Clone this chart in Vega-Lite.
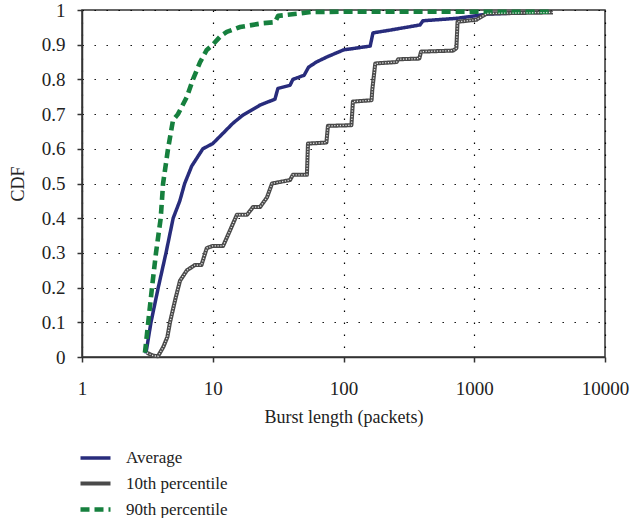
{
  "$schema": "https://vega.github.io/schema/vega-lite/v6.json",
  "autosize": {"type": "none"},
  "width": 523,
  "height": 347,
  "padding": {"left": 82, "top": 10, "right": 27, "bottom": 161},
  "background": "white",
  "config": {
    "font": "Liberation Serif",
    "view": {"stroke": "#333", "strokeWidth": 1.5},
    "axis": {
      "labelFont": "Liberation Serif",
      "titleFont": "Liberation Serif",
      "labelFontSize": 19,
      "titleFontSize": 18,
      "titleFontWeight": "normal",
      "labelColor": "#222",
      "titleColor": "#222",
      "domainColor": "#333",
      "domainWidth": 1.5,
      "tickColor": "#333",
      "tickWidth": 1.5,
      "tickSize": 5,
      "labelOverlap": false,
      "labelFlush": false,
      "grid": true,
      "gridColor": "#000",
      "gridDash": [1.4, 10.6],
      "gridWidth": 1.2,
      "gridOpacity": 1
    },
    "legend": {
      "labelFont": "Liberation Serif",
      "labelFontSize": 18,
      "labelColor": "#222"
    }
  },
  "datasets": {
    "cdf": [
      {"series": "Average", "x": 3.08, "y": 0.01},
      {"series": "Average", "x": 3.37, "y": 0.1},
      {"series": "Average", "x": 3.83, "y": 0.2},
      {"series": "Average", "x": 4.39, "y": 0.3},
      {"series": "Average", "x": 4.98, "y": 0.4},
      {"series": "Average", "x": 5.6, "y": 0.45},
      {"series": "Average", "x": 6.1, "y": 0.5},
      {"series": "Average", "x": 6.9, "y": 0.55},
      {"series": "Average", "x": 8.4, "y": 0.6},
      {"series": "Average", "x": 10, "y": 0.615},
      {"series": "Average", "x": 12, "y": 0.645},
      {"series": "Average", "x": 14.3, "y": 0.674},
      {"series": "Average", "x": 17, "y": 0.697},
      {"series": "Average", "x": 23, "y": 0.726},
      {"series": "Average", "x": 29.9, "y": 0.743},
      {"series": "Average", "x": 31.5, "y": 0.774},
      {"series": "Average", "x": 39, "y": 0.783},
      {"series": "Average", "x": 41, "y": 0.8},
      {"series": "Average", "x": 50, "y": 0.812},
      {"series": "Average", "x": 54, "y": 0.835},
      {"series": "Average", "x": 62, "y": 0.85},
      {"series": "Average", "x": 75, "y": 0.865},
      {"series": "Average", "x": 100, "y": 0.885},
      {"series": "Average", "x": 160, "y": 0.896},
      {"series": "Average", "x": 168, "y": 0.934},
      {"series": "Average", "x": 227, "y": 0.942},
      {"series": "Average", "x": 385, "y": 0.957},
      {"series": "Average", "x": 405, "y": 0.969},
      {"series": "Average", "x": 738, "y": 0.976},
      {"series": "Average", "x": 1250, "y": 0.988},
      {"series": "Average", "x": 2300, "y": 0.992},
      {"series": "10th percentile", "x": 3.14, "y": 0.012},
      {"series": "10th percentile", "x": 3.5, "y": 0.004},
      {"series": "10th percentile", "x": 3.81, "y": 0.002},
      {"series": "10th percentile", "x": 4.2, "y": 0.03},
      {"series": "10th percentile", "x": 4.5, "y": 0.058},
      {"series": "10th percentile", "x": 4.71, "y": 0.1},
      {"series": "10th percentile", "x": 5.2, "y": 0.17},
      {"series": "10th percentile", "x": 5.62, "y": 0.22},
      {"series": "10th percentile", "x": 6.35, "y": 0.25},
      {"series": "10th percentile", "x": 7.3, "y": 0.265},
      {"series": "10th percentile", "x": 8.2, "y": 0.265},
      {"series": "10th percentile", "x": 9.0, "y": 0.314},
      {"series": "10th percentile", "x": 10, "y": 0.32},
      {"series": "10th percentile", "x": 12, "y": 0.32},
      {"series": "10th percentile", "x": 13.6, "y": 0.366},
      {"series": "10th percentile", "x": 15.3, "y": 0.41},
      {"series": "10th percentile", "x": 18.3, "y": 0.41},
      {"series": "10th percentile", "x": 20.3, "y": 0.432},
      {"series": "10th percentile", "x": 23, "y": 0.432},
      {"series": "10th percentile", "x": 26, "y": 0.46},
      {"series": "10th percentile", "x": 28.4, "y": 0.5},
      {"series": "10th percentile", "x": 39, "y": 0.51},
      {"series": "10th percentile", "x": 41, "y": 0.525},
      {"series": "10th percentile", "x": 52.5, "y": 0.525},
      {"series": "10th percentile", "x": 53.5, "y": 0.615},
      {"series": "10th percentile", "x": 74, "y": 0.618},
      {"series": "10th percentile", "x": 76, "y": 0.666},
      {"series": "10th percentile", "x": 115, "y": 0.668},
      {"series": "10th percentile", "x": 118, "y": 0.736},
      {"series": "10th percentile", "x": 164, "y": 0.74},
      {"series": "10th percentile", "x": 166, "y": 0.77},
      {"series": "10th percentile", "x": 175, "y": 0.846},
      {"series": "10th percentile", "x": 255, "y": 0.85},
      {"series": "10th percentile", "x": 262, "y": 0.858},
      {"series": "10th percentile", "x": 380, "y": 0.86},
      {"series": "10th percentile", "x": 392, "y": 0.88},
      {"series": "10th percentile", "x": 690, "y": 0.883},
      {"series": "10th percentile", "x": 730, "y": 0.89},
      {"series": "10th percentile", "x": 745, "y": 0.966},
      {"series": "10th percentile", "x": 1040, "y": 0.972},
      {"series": "10th percentile", "x": 1250, "y": 0.99},
      {"series": "10th percentile", "x": 4000, "y": 0.993},
      {"series": "90th percentile", "x": 3.03, "y": 0.012},
      {"series": "90th percentile", "x": 3.43, "y": 0.2},
      {"series": "90th percentile", "x": 3.68, "y": 0.3},
      {"series": "90th percentile", "x": 4.0, "y": 0.4},
      {"series": "90th percentile", "x": 4.17, "y": 0.5},
      {"series": "90th percentile", "x": 4.55, "y": 0.6},
      {"series": "90th percentile", "x": 4.97, "y": 0.683},
      {"series": "90th percentile", "x": 5.42, "y": 0.7},
      {"series": "90th percentile", "x": 6.35, "y": 0.75},
      {"series": "90th percentile", "x": 7.06, "y": 0.8},
      {"series": "90th percentile", "x": 8.0, "y": 0.85},
      {"series": "90th percentile", "x": 9.0, "y": 0.885},
      {"series": "90th percentile", "x": 10, "y": 0.9},
      {"series": "90th percentile", "x": 11.5, "y": 0.925},
      {"series": "90th percentile", "x": 12.8, "y": 0.937},
      {"series": "90th percentile", "x": 16.2, "y": 0.951},
      {"series": "90th percentile", "x": 24.2, "y": 0.962},
      {"series": "90th percentile", "x": 29.9, "y": 0.965},
      {"series": "90th percentile", "x": 31.6, "y": 0.983},
      {"series": "90th percentile", "x": 46.5, "y": 0.99},
      {"series": "90th percentile", "x": 56, "y": 0.994},
      {"series": "90th percentile", "x": 100, "y": 0.995},
      {"series": "90th percentile", "x": 4000, "y": 0.995}
    ]
  },
  "data": {"name": "cdf"},
  "encoding": {
    "x": {
      "field": "x", "type": "quantitative",
      "scale": {"type": "log", "domain": [1, 10000], "nice": false},
      "axis": {"values": [1, 10, 100, 1000, 10000], "format": "d", "title": "Burst length (packets)", "labelPadding": 17, "titlePadding": 10, "labelOverlap": false, "labelFlush": false}
    },
    "y": {
      "field": "y", "type": "quantitative",
      "scale": {"domain": [0, 1], "nice": false},
      "axis": {"values": [0, 0.1, 0.2, 0.3, 0.4, 0.5, 0.6, 0.7, 0.8, 0.9, 1], "format": ".1~f", "title": "CDF", "labelPadding": 12, "titlePadding": 14, "labelOverlap": false, "labelFlush": false}
    }
  },
  "layer": [
    {
      "mark": {"type": "line", "strokeCap": "butt", "strokeJoin": "round"},
      "encoding": {
        "color": {
          "field": "series", "type": "nominal",
          "scale": {"domain": ["Average", "10th percentile", "90th percentile"], "range": ["#282c7c", "#4a4a4a", "#16803e"]},
          "legend": {
            "title": null, "orient": "none", "legendX": -4, "legendY": 431,
            "symbolType": "stroke", "symbolSize": 900, "symbolStrokeWidth": 3,
            "labelOffset": 13, "rowPadding": -12, "padding": 0, "labelFontSize": 17
          }
        },
        "strokeDash": {
          "field": "series", "type": "nominal",
          "scale": {"domain": ["Average", "10th percentile", "90th percentile"], "range": [[1, 0], [1, 0], [9, 5]]},
          "legend": {
            "title": null, "orient": "none", "legendX": -4, "legendY": 431,
            "symbolType": "stroke", "symbolSize": 900, "symbolStrokeWidth": 3,
            "labelOffset": 13, "rowPadding": -12, "padding": 0, "labelFontSize": 17
          }
        },
        "strokeWidth": {
          "field": "series", "type": "nominal",
          "scale": {"domain": ["Average", "10th percentile", "90th percentile"], "range": [3.5, 4.6, 3.6]},
          "legend": null
        }
      }
    },
    {
      "transform": [{"filter": "datum.series === '10th percentile'"}],
      "mark": {"type": "line", "color": "#e8e8e8", "strokeWidth": 1.3, "strokeDash": [1.2, 1.6], "strokeJoin": "round"}
    }
  ]
}
